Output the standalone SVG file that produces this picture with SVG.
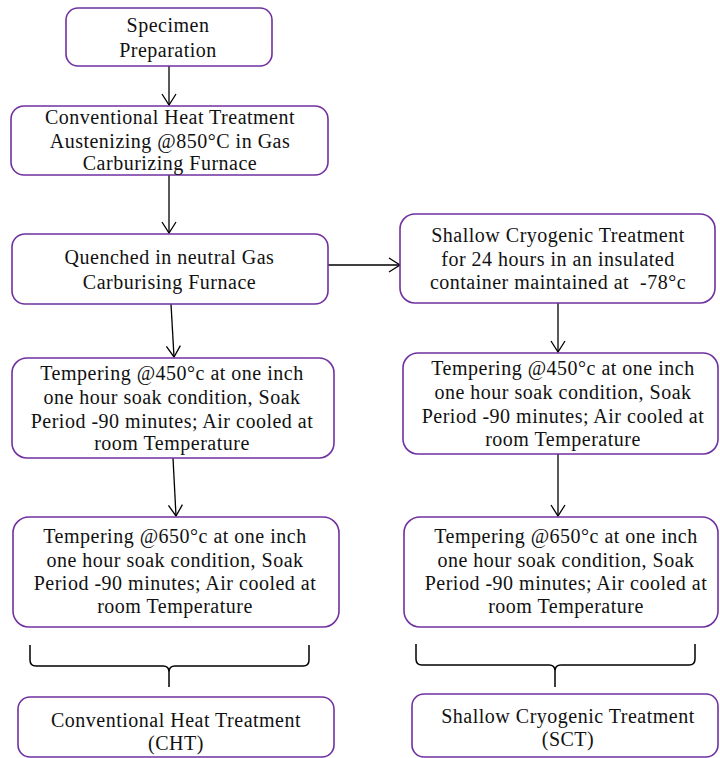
<svg xmlns="http://www.w3.org/2000/svg" width="720" height="758" viewBox="0 0 720 758">
<defs>
<style>
.box{fill:#ffffff;stroke:#7030A0;stroke-width:1.6}
.t{font-family:"Liberation Serif","Times New Roman",serif;font-size:20px;fill:#111111;text-anchor:middle;letter-spacing:0.5px}
.c{fill:none;stroke:#000;stroke-width:1.3}
.br{fill:none;stroke:#000;stroke-width:1.5}
</style>
<marker id="arr" markerUnits="userSpaceOnUse" markerWidth="14" markerHeight="16" viewBox="0 0 14 16" refX="12" refY="8" orient="auto">
<path d="M1,1 L12,8 L1,15" fill="none" stroke="#000" stroke-width="1.3"/>
</marker>
</defs>
<rect width="720" height="758" fill="#ffffff"/>

<g id="connectors">
<line class="c" x1="169" y1="66" x2="169" y2="105" marker-end="url(#arr)"/>
<line class="c" x1="169" y1="175" x2="169" y2="233" marker-end="url(#arr)"/>
<line class="c" x1="328" y1="265" x2="400" y2="265" marker-end="url(#arr)"/>
<line class="c" x1="171" y1="304" x2="174" y2="357" marker-end="url(#arr)"/>
<line class="c" x1="558" y1="303" x2="558" y2="352" marker-end="url(#arr)"/>
<line class="c" x1="173" y1="458" x2="176" y2="516" marker-end="url(#arr)"/>
<line class="c" x1="558" y1="454" x2="558" y2="516" marker-end="url(#arr)"/>
<path class="br" d="M30,645 V660 Q30,666 36,666 H163 Q169,666 169,672 V687 M309,645 V660 Q309,666 303,666 H175 Q169,666 169,672"/>
<path class="br" d="M416,644 V659 Q416,665 422,665 H549 Q555,665 555,671 V687 M695,644 V659 Q695,665 689,665 H561 Q555,665 555,671"/>
</g>

<g id="specimen">
<rect class="box" x="66" y="8" width="206" height="58" rx="12"/>
<text class="t" x="168" y="32">Specimen</text>
<text class="t" x="168" y="57">Preparation</text>
</g>

<g id="cht-austenizing">
<rect class="box" x="11" y="106" width="317" height="69" rx="13"/>
<text class="t" x="170" y="124">Conventional Heat Treatment</text>
<text class="t" x="170" y="148">Austenizing @850°C in Gas</text>
<text class="t" x="170" y="170">Carburizing Furnace</text>
</g>

<g id="quenched">
<rect class="box" x="12" y="234" width="316" height="70" rx="13"/>
<text class="t" x="169.5" y="264">Quenched in neutral Gas</text>
<text class="t" x="169.5" y="289">Carburising Furnace</text>
</g>

<g id="shallow-cryo">
<rect class="box" x="400" y="214" width="315" height="89" rx="15"/>
<text class="t" x="558" y="242">Shallow Cryogenic Treatment</text>
<text class="t" x="558" y="266">for 24 hours in an insulated</text>
<text class="t" x="558" y="289">container maintained at&#160; -78°c</text>
</g>

<g id="temper450-cht">
<rect class="box" x="12" y="358" width="322" height="100" rx="15"/>
<text class="t" x="172" y="380">Tempering @450°c at one inch</text>
<text class="t" x="172" y="404">one hour soak condition, Soak</text>
<text class="t" x="172" y="428">Period -90 minutes; Air cooled at</text>
<text class="t" x="172" y="450">room Temperature</text>
</g>

<g id="temper450-sct">
<rect class="box" x="403" y="353" width="315" height="101" rx="15"/>
<text class="t" x="563" y="375">Tempering @450°c at one inch</text>
<text class="t" x="563" y="399">one hour soak condition, Soak</text>
<text class="t" x="563" y="423">Period -90 minutes; Air cooled at</text>
<text class="t" x="563" y="446">room Temperature</text>
</g>

<g id="temper650-cht">
<rect class="box" x="13" y="517" width="326" height="110" rx="16"/>
<text class="t" x="175" y="543">Tempering @650°c at one inch</text>
<text class="t" x="175" y="567">one hour soak condition, Soak</text>
<text class="t" x="175" y="590">Period -90 minutes; Air cooled at</text>
<text class="t" x="175" y="613">room Temperature</text>
</g>

<g id="temper650-sct">
<rect class="box" x="404" y="517" width="314" height="110" rx="16"/>
<text class="t" x="566" y="543">Tempering @650°c at one inch</text>
<text class="t" x="566" y="567">one hour soak condition, Soak</text>
<text class="t" x="566" y="590">Period -90 minutes; Air cooled at</text>
<text class="t" x="566" y="613">room Temperature</text>
</g>

<g id="cht-result">
<rect class="box" x="18" y="697" width="316" height="60" rx="12"/>
<text class="t" x="176" y="727">Conventional Heat Treatment</text>
<text class="t" x="176" y="750">(CHT)</text>
</g>

<g id="sct-result">
<rect class="box" x="412" y="694" width="306" height="63" rx="12"/>
<text class="t" x="568" y="723">Shallow Cryogenic Treatment</text>
<text class="t" x="568" y="746">(SCT)</text>
</g>
</svg>
